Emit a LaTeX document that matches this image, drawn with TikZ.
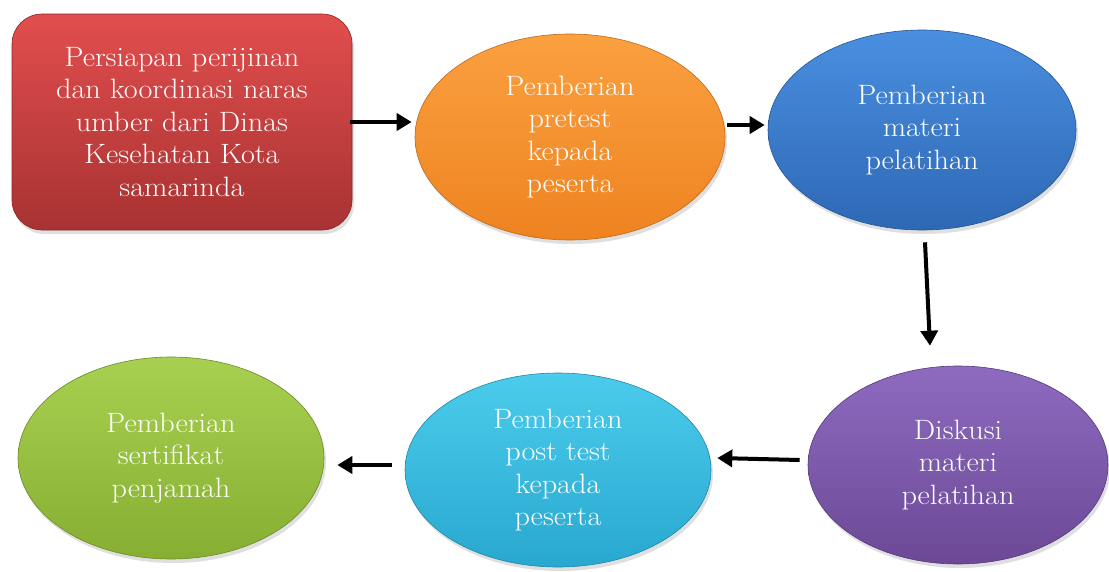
\documentclass[tikz,border=0pt]{standalone}
\usepackage{fontspec}
\setmainfont{Latin Modern Roman}[FakeStretch=1.08]
\usetikzlibrary{shapes.geometric,arrows.meta,shadows}
\definecolor{redT}{HTML}{E24E4E}\definecolor{redB}{HTML}{A83232}
\definecolor{orgT}{HTML}{FBA040}\definecolor{orgB}{HTML}{EE8320}
\definecolor{bluT}{HTML}{4A8FE0}\definecolor{bluB}{HTML}{2E68B5}
\definecolor{purT}{HTML}{8E6BBF}\definecolor{purB}{HTML}{6C4896}
\definecolor{cyaT}{HTML}{4CCCEC}\definecolor{cyaB}{HTML}{28A8CF}
\definecolor{grnT}{HTML}{A8D050}\definecolor{grnB}{HTML}{86AE32}
\tikzset{
  lbl/.style={text=white, align=center, font=\fontsize{28}{32.5}\selectfont},
  shade/.style={drop shadow={shadow xshift=2pt, shadow yshift=-4pt, opacity=0.25}},
  oval/.style={ellipse, lbl, shade, inner sep=0pt},
  flow/.style={line width=4pt, -{Triangle[length=15pt,width=17pt]}}
}
\begin{document}
\begin{tikzpicture}[x=1pt,y=-1pt]
\useasboundingbox (0,0) rectangle (1109,571);
\node[lbl, shade, rounded corners=30pt, top color=redT, bottom color=redB, draw=redB!80!black, line width=0.6pt,
  minimum width=340pt, minimum height=216pt] (red) at (182,122)
  {Persiapan perijinan\\dan koordinasi naras\\umber dari Dinas\\Kesehatan Kota\\samarinda};
\node[oval, top color=orgT, bottom color=orgB, draw=orgB!80!black, line width=0.6pt,
  minimum width=310pt, minimum height=206pt] (org) at (570,137)
  {Pemberian\\pretest\\kepada\\peserta};
\node[oval, top color=bluT, bottom color=bluB, draw=bluB!80!black, line width=0.6pt,
  minimum width=308pt, minimum height=200pt] (blu) at (922,130)
  {Pemberian\\materi\\pelatihan};
\node[oval, top color=purT, bottom color=purB, draw=purB!80!black, line width=0.6pt,
  minimum width=300pt, minimum height=198pt] (pur) at (958,465)
  {Diskusi\\materi\\pelatihan};
\node[oval, top color=cyaT, bottom color=cyaB, draw=cyaB!80!black, line width=0.6pt,
  minimum width=306pt, minimum height=194pt] (cya) at (558,470)
  {Pemberian\\post test\\kepada\\peserta};
\node[oval, top color=grnT, bottom color=grnB, draw=grnB!80!black, line width=0.6pt,
  minimum width=306pt, minimum height=202pt] (grn) at (171,458)
  {Pemberian\\sertifikat\\penjamah};
\draw[flow] ([xshift=-2pt]red.east) -- ([xshift=-3pt]red.east -| org.west);
\draw[flow] ([xshift=2pt,yshift=12pt]org.east) -- ([xshift=-3pt,yshift=12pt]org.east -| blu.west);
\draw[flow] ([xshift=3pt,yshift=-12pt]blu.south) -- ([xshift=-28pt,yshift=20pt]pur.north);
\draw[flow] ([xshift=-8pt,yshift=5pt]pur.west) -- ([xshift=6pt,yshift=12pt]cya.east);
\draw[flow] ([xshift=-13pt,yshift=5pt]cya.west) -- ([xshift=13pt,yshift=-7pt]grn.east);
\end{tikzpicture}
\end{document}
